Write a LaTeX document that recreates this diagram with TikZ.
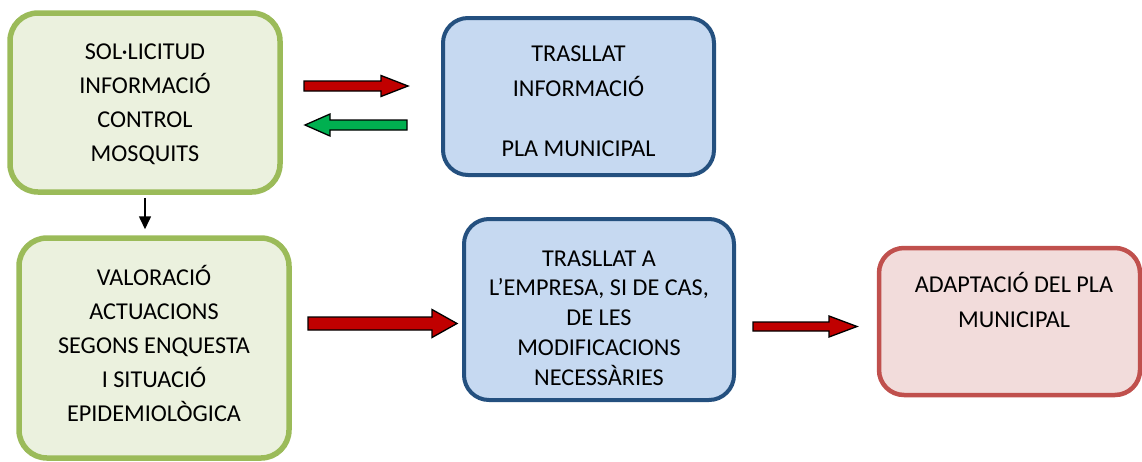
\documentclass[tikz,border=0pt]{standalone}
\usepackage{fontspec}
\setmainfont{Carlito}
\usetikzlibrary{arrows.meta,positioning}

\definecolor{greenline}{HTML}{9BBB59}
\definecolor{greenfill}{HTML}{EBF1DE}
\definecolor{blueline}{HTML}{24507F}
\definecolor{bluefill}{HTML}{C6D9F1}
\definecolor{redline}{HTML}{C0504D}
\definecolor{redfill}{HTML}{F2DCDB}
\definecolor{arrowred}{HTML}{C00000}
\definecolor{arrowgreen}{HTML}{00B050}

\tikzset{
	box/.style = {draw, inner sep = 0pt, rounded corners = 28pt},
	greenbox/.style = {box, draw = greenline, fill = greenfill, line width = 5.5pt},
	bluebox/.style = {box, draw = blueline, fill = bluefill, line width = 4pt, rounded corners = 25pt},
	redbox/.style = {box, draw = redline, fill = redfill, line width = 4.5pt, rounded corners = 25pt},
	txt/.style = {align = center, inner sep = 0pt, font = \fontsize{24.2}{34}\selectfont},
}

% #1 colour, #2 tail x, #3 head base x, #4 tip x, #5 y, #6 half shaft, #7 half head
\newcommand{\fatarrow}[7]{%
	\filldraw[fill = #1, draw = black, line width = 1.3pt, line join = miter]
		(#2,#5-#6) -- (#3,#5-#6) -- (#3,#5-#7) -- (#4,#5) -- (#3,#5+#7) -- (#3,#5+#6) -- (#2,#5+#6) -- cycle;
}

\begin{document}
\begin{tikzpicture}[x = 1pt, y = -1pt]
			\useasboundingbox (0,0) rectangle (1142,461);

			\node[greenbox, minimum width = 270pt, minimum height = 179pt] (B1) at (145,102.5) {};
			\node[bluebox, minimum width = 271pt, minimum height = 157pt] (B2) at (578.5,96.5) {};
			\node[greenbox, minimum width = 270pt, minimum height = 220pt] (B3) at (154,348) {};
			\node[bluebox, minimum width = 270pt, minimum height = 181pt] (B4) at (599,309.5) {};
			\node[redbox, minimum width = 261pt, minimum height = 147pt] (B5) at (1009.5,321.5) {};

			\node[txt] (T1) at (145,104) {SOL·LICITUD\\INFORMACIÓ\\CONTROL\\MOSQUITS};
			\node[txt, font = \fontsize{24.2}{30}\selectfont] (T2) at (578.5,101) {TRASLLAT\\[5pt]INFORMACIÓ\\[30pt]PLA MUNICIPAL};
			\node[txt] (T3) at (154,343) {VALORACIÓ\\ACTUACIONS\\SEGONS ENQUESTA\\I SITUACIÓ\\EPIDEMIOLÒGICA};
			\node[txt, font = \fontsize{24.2}{29.8}\selectfont] (T4) at (599,318) {TRASLLAT A\\L’EMPRESA, SI DE CAS,\\DE LES\\MODIFICACIONS\\NECESSÀRIES};
			\node[txt, font = \fontsize{24.2}{35}\selectfont] (T5) at (1014,300) {ADAPTACIÓ DEL PLA\\MUNICIPAL};

			\draw[-{Triangle[length = 13pt, width = 12pt]}, line width = 1.6pt] ([yshift = -3pt]B1.south) -- ([yshift = 6pt]B1.south |- B3.north);

			\fatarrow{arrowred}{304}{381}{408}{86}{5}{10.5}
			\fatarrow{arrowgreen}{407}{330}{305}{125}{5}{11}
			\fatarrow{arrowred}{308}{432}{457}{323.5}{6.5}{14}
			\fatarrow{arrowred}{753}{829}{857}{326.5}{4.5}{10.5}

		\end{tikzpicture}
\end{document}
